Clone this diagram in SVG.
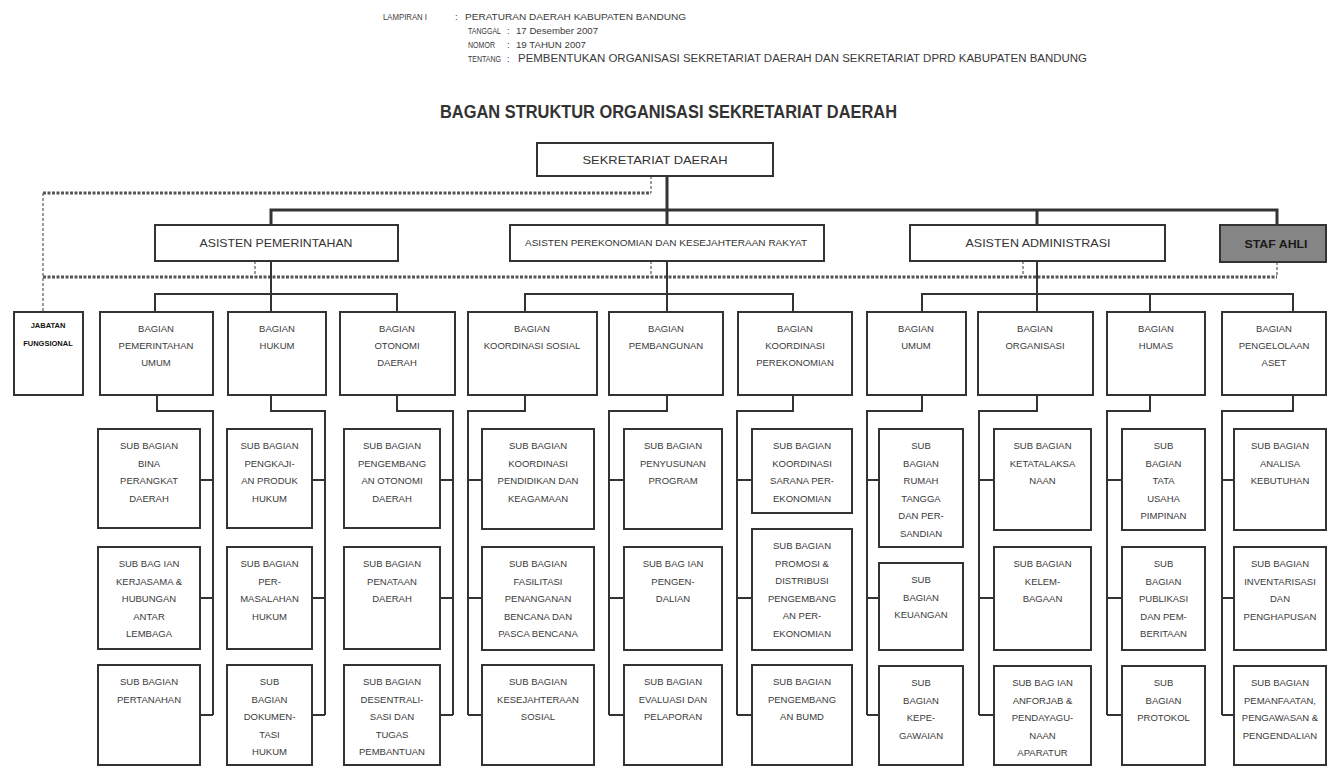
<svg xmlns="http://www.w3.org/2000/svg" width="1328" height="768" viewBox="0 0 1328 768">
<style>
.bg{fill:#fff}
.box{fill:#fff;stroke:#333;stroke-width:2}
.staf{fill:#858585;stroke:#333;stroke-width:2}
.t{font-family:"Liberation Sans",Arial,sans-serif;font-size:9.5px;fill:#3a3a3a;text-anchor:middle}
.h{font-family:"Liberation Sans",Arial,sans-serif;font-size:9.5px;fill:#3a3a3a}
.a{font-family:"Liberation Sans",Arial,sans-serif;font-size:11.5px;fill:#333;text-anchor:middle}
.title{font-family:"Liberation Sans",Arial,sans-serif;font-size:17px;font-weight:bold;fill:#333}
.jf{font-family:"Liberation Sans",Arial,sans-serif;font-size:7.5px;font-weight:bold;fill:#111;text-anchor:middle}
.ln{stroke:#333;stroke-width:2;fill:none}
.thick{stroke:#333;stroke-width:3;fill:none}
.dot{stroke:#555;stroke-width:3;stroke-dasharray:3 1.5;fill:none}
.thin{stroke:#666;stroke-width:1.3;stroke-dasharray:3 2;fill:none}
</style>
<rect class="bg" x="0" y="0" width="1328" height="768"/>

<g id="header">
<text class="h" x="383" y="20" textLength="44" lengthAdjust="spacingAndGlyphs">LAMPIRAN I</text>
<text class="h" x="455" y="20">:</text>
<text class="h" x="465" y="20" textLength="221" lengthAdjust="spacingAndGlyphs">PERATURAN DAERAH KABUPATEN BANDUNG</text>
<text class="h" x="468" y="34" textLength="33" lengthAdjust="spacingAndGlyphs">TANGGAL</text>
<text class="h" x="507" y="34">:</text>
<text class="h" x="516" y="34" textLength="82" lengthAdjust="spacingAndGlyphs">17 Desember 2007</text>
<text class="h" x="468" y="48" textLength="27" lengthAdjust="spacingAndGlyphs">NOMOR</text>
<text class="h" x="507" y="48">:</text>
<text class="h" x="516" y="48" textLength="70" lengthAdjust="spacingAndGlyphs">19 TAHUN 2007</text>
<text class="h" x="468" y="62" textLength="33" lengthAdjust="spacingAndGlyphs">TENTANG</text>
<text class="h" x="507" y="62">:</text>
<text class="h" x="518" y="62" style="font-size:10px" textLength="569" lengthAdjust="spacingAndGlyphs">PEMBENTUKAN ORGANISASI SEKRETARIAT DAERAH DAN SEKRETARIAT DPRD KABUPATEN BANDUNG</text>
<text class="title" x="440" y="118" style="font-size:18px" textLength="457" lengthAdjust="spacingAndGlyphs">BAGAN STRUKTUR ORGANISASI  SEKRETARIAT DAERAH</text>
</g>

<g id="connectors">
<path class="thin" d="M651 176 V193"/>
<path class="dot" d="M43 193 H651"/>
<path class="thin" d="M43 193 V312"/>
<path class="dot" d="M43 277 H1277"/>
<path class="thin" d="M255 261 V277 M651 261 V277 M1023 261 V277 M1277 262 V277"/>
<path class="thick" d="M667 176 V225 M271 225 V210 H1277 V225 M1037 210 V225"/>
<path class="ln" d="M271 261 V312 M155 312 V294 H397 V312"/>
<path class="ln" d="M667 261 V312 M525 312 V294 H793 V312"/>
<path class="ln" d="M1037 261 V312 M922 312 V294 H1293 V312 M1150 294 V312"/>
<path class="ln" d="M157 395 V411 H213 V715 M200 480 H213 M200 598 H213 M200 715 H213"/>
<path class="ln" d="M271 395 V411 H325 V715 M312 480 H325 M312 598 H325 M312 715 H325"/>
<path class="ln" d="M397 395 V411 H453 V715 M440 480 H453 M440 598 H453 M440 715 H453"/>
<path class="ln" d="M525 395 V411 H468 V715 M468 480 H482 M468 598 H482 M468 715 H482"/>
<path class="ln" d="M667 395 V411 H609 V715 M609 480 H624 M609 598 H624 M609 715 H624"/>
<path class="ln" d="M793 395 V411 H737 V715 M737 480 H752 M737 598 H752 M737 715 H752"/>
<path class="ln" d="M922 395 V411 H867 V715 M867 480 H879 M867 598 H879 M867 715 H879"/>
<path class="ln" d="M1037 395 V411 H979 V715 M979 480 H994 M979 598 H994 M979 715 H994"/>
<path class="ln" d="M1150 395 V411 H1107 V715 M1107 480 H1122 M1107 598 H1122 M1107 715 H1122"/>
<path class="ln" d="M1293 395 V411 H1222 V715 M1222 480 H1234 M1222 598 H1234 M1222 715 H1234"/>
</g>

<g id="sekretariat-daerah"><rect class="box" x="537" y="143" width="236" height="33"/><text class="a" x="655" y="164" textLength="145" lengthAdjust="spacingAndGlyphs">SEKRETARIAT DAERAH</text></g>

<g id="asisten-pemerintahan"><rect class="box" x="155" y="225" width="243" height="36"/><text class="a" x="276" y="247" textLength="153" lengthAdjust="spacingAndGlyphs">ASISTEN PEMERINTAHAN</text></g>
<g id="asisten-perekonomian"><rect class="box" x="510" y="225" width="314" height="36"/><text class="a" x="666" y="246" style="font-size:9px" textLength="282" lengthAdjust="spacingAndGlyphs">ASISTEN PEREKONOMIAN DAN KESEJAHTERAAN RAKYAT</text></g>
<g id="asisten-administrasi"><rect class="box" x="910" y="225" width="255" height="36"/><text class="a" x="1038" y="247" textLength="145" lengthAdjust="spacingAndGlyphs">ASISTEN ADMINISTRASI</text></g>
<g id="staf-ahli"><rect class="staf" x="1220" y="225" width="106" height="37"/><text class="a" x="1276" y="248" style="font-weight:bold;fill:#1a1a1a" textLength="63" lengthAdjust="spacingAndGlyphs">STAF AHLI</text></g>

<g id="jabatan-fungsional"><rect class="box" x="14" y="312" width="69" height="83"/><text class="jf" x="48" y="328">JABATAN</text><text class="jf" x="48" y="346">FUNGSIONAL</text></g>

<g id="bagian-pemerintahan-umum"><rect class="box" x="100" y="312" width="113" height="83"/><text class="t" x="156" y="332">BAGIAN</text><text class="t" x="156" y="349">PEMERINTAHAN</text><text class="t" x="156" y="366">UMUM</text></g>
<g id="bagian-hukum"><rect class="box" x="228" y="312" width="98" height="83"/><text class="t" x="277" y="332">BAGIAN</text><text class="t" x="277" y="349">HUKUM</text></g>
<g id="bagian-otonomi-daerah"><rect class="box" x="340" y="312" width="115" height="83"/><text class="t" x="397" y="332">BAGIAN</text><text class="t" x="397" y="349">OTONOMI</text><text class="t" x="397" y="366">DAERAH</text></g>
<g id="bagian-koordinasi-sosial"><rect class="box" x="468" y="312" width="129" height="83"/><text class="t" x="532" y="332">BAGIAN</text><text class="t" x="532" y="349">KOORDINASI SOSIAL</text></g>
<g id="bagian-pembangunan"><rect class="box" x="609" y="312" width="114" height="83"/><text class="t" x="666" y="332">BAGIAN</text><text class="t" x="666" y="349">PEMBANGUNAN</text></g>
<g id="bagian-koordinasi-perekonomian"><rect class="box" x="738" y="312" width="114" height="83"/><text class="t" x="795" y="332">BAGIAN</text><text class="t" x="795" y="349">KOORDINASI</text><text class="t" x="795" y="366">PEREKONOMIAN</text></g>
<g id="bagian-umum"><rect class="box" x="867" y="312" width="99" height="83"/><text class="t" x="916" y="332">BAGIAN</text><text class="t" x="916" y="349">UMUM</text></g>
<g id="bagian-organisasi"><rect class="box" x="978" y="312" width="115" height="83"/><text class="t" x="1035" y="332">BAGIAN</text><text class="t" x="1035" y="349">ORGANISASI</text></g>
<g id="bagian-humas"><rect class="box" x="1107" y="312" width="98" height="83"/><text class="t" x="1156" y="332">BAGIAN</text><text class="t" x="1156" y="349">HUMAS</text></g>
<g id="bagian-pengelolaan-aset"><rect class="box" x="1222" y="312" width="104" height="83"/><text class="t" x="1274" y="332">BAGIAN</text><text class="t" x="1274" y="349">PENGELOLAAN</text><text class="t" x="1274" y="366">ASET</text></g>

<g id="sub-bina-perangkat"><rect class="box" x="98" y="429" width="102" height="99"/><text class="t" x="149" y="449">SUB BAGIAN</text><text class="t" x="149" y="466.5">BINA</text><text class="t" x="149" y="484">PERANGKAT</text><text class="t" x="149" y="501.5">DAERAH</text></g>
<g id="sub-kerjasama"><rect class="box" x="98" y="547" width="102" height="102"/><text class="t" x="149" y="567">SUB BAG IAN</text><text class="t" x="149" y="584.5">KERJASAMA &amp;</text><text class="t" x="149" y="602">HUBUNGAN</text><text class="t" x="149" y="619.5">ANTAR</text><text class="t" x="149" y="637">LEMBAGA</text></g>
<g id="sub-pertanahan"><rect class="box" x="98" y="665" width="102" height="100"/><text class="t" x="149" y="685">SUB BAGIAN</text><text class="t" x="149" y="702.5">PERTANAHAN</text></g>
<g id="sub-pengkajian"><rect class="box" x="227" y="429" width="85" height="99"/><text class="t" x="269.5" y="449">SUB BAGIAN</text><text class="t" x="269.5" y="466.5">PENGKAJI-</text><text class="t" x="269.5" y="484">AN PRODUK</text><text class="t" x="269.5" y="501.5">HUKUM</text></g>
<g id="sub-permasalahan"><rect class="box" x="227" y="547" width="85" height="102"/><text class="t" x="269.5" y="567">SUB BAGIAN</text><text class="t" x="269.5" y="584.5">PER-</text><text class="t" x="269.5" y="602">MASALAHAN</text><text class="t" x="269.5" y="619.5">HUKUM</text></g>
<g id="sub-dokumentasi"><rect class="box" x="227" y="665" width="85" height="100"/><text class="t" x="269.5" y="685">SUB</text><text class="t" x="269.5" y="702.5">BAGIAN</text><text class="t" x="269.5" y="720">DOKUMEN-</text><text class="t" x="269.5" y="737.5">TASI</text><text class="t" x="269.5" y="755">HUKUM</text></g>
<g id="sub-pengembangan-otonomi"><rect class="box" x="344" y="429" width="96" height="99"/><text class="t" x="392" y="449">SUB BAGIAN</text><text class="t" x="392" y="466.5">PENGEMBANG</text><text class="t" x="392" y="484">AN OTONOMI</text><text class="t" x="392" y="501.5">DAERAH</text></g>
<g id="sub-penataan-daerah"><rect class="box" x="344" y="547" width="96" height="102"/><text class="t" x="392" y="567">SUB BAGIAN</text><text class="t" x="392" y="584.5">PENATAAN</text><text class="t" x="392" y="602">DAERAH</text></g>
<g id="sub-desentralisasi"><rect class="box" x="344" y="665" width="96" height="100"/><text class="t" x="392" y="685">SUB BAGIAN</text><text class="t" x="392" y="702.5">DESENTRALI-</text><text class="t" x="392" y="720">SASI DAN</text><text class="t" x="392" y="737.5">TUGAS</text><text class="t" x="392" y="755">PEMBANTUAN</text></g>
<g id="sub-pendidikan"><rect class="box" x="482" y="429" width="112" height="100"/><text class="t" x="538" y="449">SUB BAGIAN</text><text class="t" x="538" y="466.5">KOORDINASI</text><text class="t" x="538" y="484">PENDIDIKAN DAN</text><text class="t" x="538" y="501.5">KEAGAMAAN</text></g>
<g id="sub-bencana"><rect class="box" x="482" y="547" width="112" height="103"/><text class="t" x="538" y="567">SUB BAGIAN</text><text class="t" x="538" y="584.5">FASILITASI</text><text class="t" x="538" y="602">PENANGANAN</text><text class="t" x="538" y="619.5">BENCANA DAN</text><text class="t" x="538" y="637">PASCA BENCANA</text></g>
<g id="sub-kesejahteraan"><rect class="box" x="482" y="665" width="112" height="100"/><text class="t" x="538" y="685">SUB BAGIAN</text><text class="t" x="538" y="702.5">KESEJAHTERAAN</text><text class="t" x="538" y="720">SOSIAL</text></g>
<g id="sub-penyusunan"><rect class="box" x="624" y="429" width="98" height="100"/><text class="t" x="673" y="449">SUB BAGIAN</text><text class="t" x="673" y="466.5">PENYUSUNAN</text><text class="t" x="673" y="484">PROGRAM</text></g>
<g id="sub-pengendalian"><rect class="box" x="624" y="547" width="98" height="103"/><text class="t" x="673" y="567">SUB BAG IAN</text><text class="t" x="673" y="584.5">PENGEN-</text><text class="t" x="673" y="602">DALIAN</text></g>
<g id="sub-evaluasi"><rect class="box" x="624" y="665" width="98" height="100"/><text class="t" x="673" y="685">SUB BAGIAN</text><text class="t" x="673" y="702.5">EVALUASI DAN</text><text class="t" x="673" y="720">PELAPORAN</text></g>
<g id="sub-sarana"><rect class="box" x="752" y="429" width="100" height="84"/><text class="t" x="802" y="449">SUB BAGIAN</text><text class="t" x="802" y="466.5">KOORDINASI</text><text class="t" x="802" y="484">SARANA PER-</text><text class="t" x="802" y="501.5">EKONOMIAN</text></g>
<g id="sub-promosi"><rect class="box" x="752" y="529" width="100" height="121"/><text class="t" x="802" y="549">SUB BAGIAN</text><text class="t" x="802" y="566.5">PROMOSI &amp;</text><text class="t" x="802" y="584">DISTRIBUSI</text><text class="t" x="802" y="601.5">PENGEMBANG</text><text class="t" x="802" y="619">AN PER-</text><text class="t" x="802" y="636.5">EKONOMIAN</text></g>
<g id="sub-bumd"><rect class="box" x="752" y="665" width="100" height="100"/><text class="t" x="802" y="685">SUB BAGIAN</text><text class="t" x="802" y="702.5">PENGEMBANG</text><text class="t" x="802" y="720">AN BUMD</text></g>
<g id="sub-rumah-tangga"><rect class="box" x="879" y="429" width="84" height="118"/><text class="t" x="921" y="449">SUB</text><text class="t" x="921" y="466.5">BAGIAN</text><text class="t" x="921" y="484">RUMAH</text><text class="t" x="921" y="501.5">TANGGA</text><text class="t" x="921" y="519">DAN PER-</text><text class="t" x="921" y="536.5">SANDIAN</text></g>
<g id="sub-keuangan"><rect class="box" x="879" y="563" width="84" height="87"/><text class="t" x="921" y="583">SUB</text><text class="t" x="921" y="600.5">BAGIAN</text><text class="t" x="921" y="618">KEUANGAN</text></g>
<g id="sub-kepegawaian"><rect class="box" x="879" y="666" width="84" height="99"/><text class="t" x="921" y="686">SUB</text><text class="t" x="921" y="703.5">BAGIAN</text><text class="t" x="921" y="721">KEPE-</text><text class="t" x="921" y="738.5">GAWAIAN</text></g>
<g id="sub-ketatalaksanaan"><rect class="box" x="994" y="429" width="97" height="101"/><text class="t" x="1042.5" y="449">SUB BAGIAN</text><text class="t" x="1042.5" y="466.5">KETATALAKSA</text><text class="t" x="1042.5" y="484">NAAN</text></g>
<g id="sub-kelembagaan"><rect class="box" x="994" y="547" width="97" height="103"/><text class="t" x="1042.5" y="567">SUB BAGIAN</text><text class="t" x="1042.5" y="584.5">KELEM-</text><text class="t" x="1042.5" y="602">BAGAAN</text></g>
<g id="sub-anforjab"><rect class="box" x="994" y="666" width="97" height="99"/><text class="t" x="1042.5" y="686">SUB BAG IAN</text><text class="t" x="1042.5" y="703.5">ANFORJAB &amp;</text><text class="t" x="1042.5" y="721">PENDAYAGU-</text><text class="t" x="1042.5" y="738.5">NAAN</text><text class="t" x="1042.5" y="756">APARATUR</text></g>
<g id="sub-tata-usaha"><rect class="box" x="1122" y="429" width="83" height="101"/><text class="t" x="1163.5" y="449">SUB</text><text class="t" x="1163.5" y="466.5">BAGIAN</text><text class="t" x="1163.5" y="484">TATA</text><text class="t" x="1163.5" y="501.5">USAHA</text><text class="t" x="1163.5" y="519">PIMPINAN</text></g>
<g id="sub-publikasi"><rect class="box" x="1122" y="547" width="83" height="103"/><text class="t" x="1163.5" y="567">SUB</text><text class="t" x="1163.5" y="584.5">BAGIAN</text><text class="t" x="1163.5" y="602">PUBLIKASI</text><text class="t" x="1163.5" y="619.5">DAN PEM-</text><text class="t" x="1163.5" y="637">BERITAAN</text></g>
<g id="sub-protokol"><rect class="box" x="1122" y="666" width="83" height="99"/><text class="t" x="1163.5" y="686">SUB</text><text class="t" x="1163.5" y="703.5">BAGIAN</text><text class="t" x="1163.5" y="721">PROTOKOL</text></g>
<g id="sub-analisa"><rect class="box" x="1234" y="429" width="92" height="101"/><text class="t" x="1280" y="449">SUB BAGIAN</text><text class="t" x="1280" y="466.5">ANALISA</text><text class="t" x="1280" y="484">KEBUTUHAN</text></g>
<g id="sub-inventarisasi"><rect class="box" x="1234" y="547" width="92" height="103"/><text class="t" x="1280" y="567">SUB BAGIAN</text><text class="t" x="1280" y="584.5">INVENTARISASI</text><text class="t" x="1280" y="602">DAN</text><text class="t" x="1280" y="619.5">PENGHAPUSAN</text></g>
<g id="sub-pemanfaatan"><rect class="box" x="1234" y="666" width="92" height="99"/><text class="t" x="1280" y="686">SUB BAGIAN</text><text class="t" x="1280" y="703.5">PEMANFAATAN,</text><text class="t" x="1280" y="721">PENGAWASAN &amp;</text><text class="t" x="1280" y="738.5">PENGENDALIAN</text></g>
</svg>
